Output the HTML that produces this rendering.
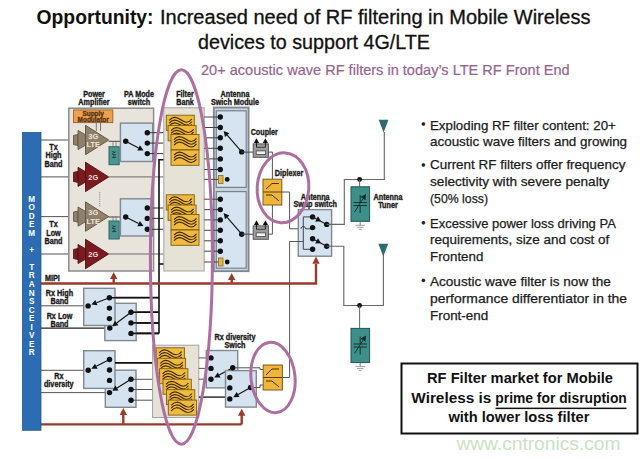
<!DOCTYPE html>
<html><head><meta charset="utf-8">
<style>
html,body{margin:0;padding:0;background:#fff;width:640px;height:459px;overflow:hidden}
svg{display:block}
text{font-family:"Liberation Sans",sans-serif}
</style></head>
<body>
<svg width="640" height="459" viewBox="0 0 640 459">
<text x="36.5" y="23.6" font-size="19.8" font-weight="bold" fill="#111" textLength="117" lengthAdjust="spacingAndGlyphs">Opportunity:</text>
<text x="160" y="23.6" font-size="19.6" fill="#111" stroke="#111" stroke-width="0.3" textLength="430.5" lengthAdjust="spacingAndGlyphs">Increased need of RF filtering in Mobile Wireless</text>
<text x="198" y="49.2" font-size="19.6" fill="#111" stroke="#111" stroke-width="0.3" textLength="232" lengthAdjust="spacingAndGlyphs">devices to support 4G/LTE</text>
<text x="201" y="75.3" font-size="14.6" fill="#96648f" stroke="#96648f" stroke-width="0.2" textLength="368.7" lengthAdjust="spacingAndGlyphs">20+ acoustic wave RF filters in today’s LTE RF Front End</text>
<g font-size="12.7" fill="#1c1c1c" stroke="#1c1c1c" stroke-width="0.25">
<circle cx="423.4" cy="124.0" r="1.7" fill="#222"/>
<text x="430" y="129.5" textLength="185.8" lengthAdjust="spacingAndGlyphs">Exploding RF filter content: 20+</text>
<text x="430" y="146.20000000000002" textLength="197.1" lengthAdjust="spacingAndGlyphs">acoustic wave filters and growing</text>
<circle cx="423.4" cy="165.0" r="1.7" fill="#222"/>
<text x="430" y="169.20000000000002" textLength="195.4" lengthAdjust="spacingAndGlyphs">Current RF filters offer frequency</text>
<text x="430" y="186.1" textLength="179.3" lengthAdjust="spacingAndGlyphs">selectivity with severe penalty</text>
<text x="430" y="202.9" textLength="58" lengthAdjust="spacingAndGlyphs">(50% loss)</text>
<circle cx="423.4" cy="222.8" r="1.7" fill="#222"/>
<text x="430" y="227.70000000000002" textLength="185.8" lengthAdjust="spacingAndGlyphs">Excessive power loss driving PA</text>
<text x="430" y="244.4" textLength="179.3" lengthAdjust="spacingAndGlyphs">requirements, size and cost of</text>
<text x="430" y="261.4" textLength="53.3" lengthAdjust="spacingAndGlyphs">Frontend</text>
<circle cx="423.4" cy="280.4" r="1.7" fill="#222"/>
<text x="430" y="285.79999999999995" textLength="180.8" lengthAdjust="spacingAndGlyphs">Acoustic wave filter is now the</text>
<text x="430" y="302.59999999999997" textLength="197.1" lengthAdjust="spacingAndGlyphs">performance differentiator in the</text>
<text x="430" y="319.79999999999995" textLength="58.2" lengthAdjust="spacingAndGlyphs">Front-end</text>
</g>
<rect x="401.5" y="363.5" width="236" height="70" fill="#fff" stroke="#111" stroke-width="2"/>
<g font-size="14.5" font-weight="bold" fill="#111">
<text x="427" y="383.2" textLength="186" lengthAdjust="spacingAndGlyphs">RF Filter market for Mobile</text>
<text x="411.3" y="402.7" textLength="80" lengthAdjust="spacingAndGlyphs">Wireless is</text>
<text x="495.3" y="402.7" textLength="131.5" lengthAdjust="spacingAndGlyphs">prime for disruption</text>
<rect x="495.5" y="407.6" width="131" height="1.5" fill="#111"/>
<text x="448.4" y="421.5" textLength="141" lengthAdjust="spacingAndGlyphs">with lower loss filter</text>
</g>
<text x="456.4" y="450" font-size="18" fill="#c9e3c0" textLength="164" lengthAdjust="spacingAndGlyphs">www.cntronics.com</text>
<text x="94" y="97" font-size="8.2" font-weight="bold" fill="#1a1a1a" stroke="#1a1a1a" stroke-width="0.35" text-anchor="middle" textLength="21.66" lengthAdjust="spacingAndGlyphs">Power</text>
<text x="94" y="104.8" font-size="8.2" font-weight="bold" fill="#1a1a1a" stroke="#1a1a1a" stroke-width="0.35" text-anchor="middle" textLength="31.27" lengthAdjust="spacingAndGlyphs">Amplifier</text>
<text x="139" y="97" font-size="8.2" font-weight="bold" fill="#1a1a1a" stroke="#1a1a1a" stroke-width="0.35" text-anchor="middle" textLength="30.07" lengthAdjust="spacingAndGlyphs">PA Mode</text>
<text x="139" y="104.8" font-size="8.2" font-weight="bold" fill="#1a1a1a" stroke="#1a1a1a" stroke-width="0.35" text-anchor="middle" textLength="22.45" lengthAdjust="spacingAndGlyphs">switch</text>
<text x="185" y="97" font-size="8.2" font-weight="bold" fill="#1a1a1a" stroke="#1a1a1a" stroke-width="0.35" text-anchor="middle" textLength="17.64" lengthAdjust="spacingAndGlyphs">Filter</text>
<text x="185" y="104.8" font-size="8.2" font-weight="bold" fill="#1a1a1a" stroke="#1a1a1a" stroke-width="0.35" text-anchor="middle" textLength="17.65" lengthAdjust="spacingAndGlyphs">Bank</text>
<text x="235" y="97" font-size="8.2" font-weight="bold" fill="#1a1a1a" stroke="#1a1a1a" stroke-width="0.35" text-anchor="middle" textLength="28.86" lengthAdjust="spacingAndGlyphs">Antenna</text>
<text x="235" y="104.8" font-size="8.2" font-weight="bold" fill="#1a1a1a" stroke="#1a1a1a" stroke-width="0.35" text-anchor="middle" textLength="48.11" lengthAdjust="spacingAndGlyphs">Swich Module</text>
<polyline points="41,140.0 74,140.0" fill="none" stroke="#555" stroke-width="1" />
<polyline points="41,176.9 74,176.9" fill="none" stroke="#555" stroke-width="1" />
<polyline points="41,216.6 74,216.6" fill="none" stroke="#555" stroke-width="1" />
<polyline points="41,254.0 74,254.0" fill="none" stroke="#555" stroke-width="1" />
<polyline points="41,305.8 88,305.8" fill="none" stroke="#555" stroke-width="1" />
<polyline points="41,328.1 109.8,328.1" fill="none" stroke="#222" stroke-width="1.4" />
<polyline points="41,370.3 88,370.3" fill="none" stroke="#555" stroke-width="1" />
<polyline points="41,392.6 109.5,392.6" fill="none" stroke="#555" stroke-width="1" />
<rect x="68.8" y="108.2" width="84.8" height="162.8" fill="#e8e4db" stroke="#8c8c8c" stroke-width="1.5" />
<rect x="73.5" y="109.9" width="39.3" height="12.699999999999989" fill="#eda24f" stroke="#9f6a33" stroke-width="1" />
<text x="93.2" y="115.6" font-size="6.8" font-weight="bold" fill="#5a3414" stroke="#5a3414" stroke-width="0.35" text-anchor="middle" textLength="21.53" lengthAdjust="spacingAndGlyphs">Supply</text>
<text x="93.2" y="122.0" font-size="6.8" font-weight="bold" fill="#5a3414" stroke="#5a3414" stroke-width="0.35" text-anchor="middle" textLength="31.22" lengthAdjust="spacingAndGlyphs">Modulator</text>
<polyline points="96.3,122.6 96.3,131" fill="none" stroke="#6a6a6a" stroke-width="0.9" />
<polyline points="100.5,122.6 100.5,131" fill="none" stroke="#6a6a6a" stroke-width="0.9" />
<polyline points="99.7,192 99.7,207" fill="none" stroke="#777" stroke-width="0.8" stroke-dasharray="1.2 1"/>
<path d="M73.5 135.4 L78.0 134.5 L78.0 145.5 L73.5 144.6 Z" fill="#8e806a" stroke="#5b4f3d" stroke-width="0.8"/>
<path d="M78.0 130.4 L94.5 140.0 L78.0 149.6 Z" fill="#8e806a" stroke="#5b4f3d" stroke-width="0.8"/>
<path d="M85.5 125.3 L108.7 140.0 L85.5 154.7 Z" fill="#8e806a" stroke="#5b4f3d" stroke-width="0.9"/>
<text x="93.3" y="138.8" font-size="7.4" font-weight="bold" fill="#efe6d6" text-anchor="middle">3G</text>
<text x="93.3" y="147.0" font-size="7.4" font-weight="bold" fill="#efe6d6" text-anchor="middle">LTE</text>
<path d="M73.5 172.3 L78.0 171.4 L78.0 182.4 L73.5 181.5 Z" fill="#7c1b1f" stroke="#4d0f12" stroke-width="0.8"/>
<path d="M78.0 167.3 L94.5 176.9 L78.0 186.5 Z" fill="#7c1b1f" stroke="#4d0f12" stroke-width="0.8"/>
<path d="M85.5 162.20000000000002 L108.7 176.9 L85.5 191.6 Z" fill="#7c1b1f" stroke="#4d0f12" stroke-width="0.9"/>
<text x="93.3" y="179.70000000000002" font-size="7.4" font-weight="bold" fill="#f3dede" text-anchor="middle">2G</text>
<path d="M73.5 212.0 L78.0 211.1 L78.0 222.1 L73.5 221.2 Z" fill="#8e806a" stroke="#5b4f3d" stroke-width="0.8"/>
<path d="M78.0 207.0 L94.5 216.6 L78.0 226.2 Z" fill="#8e806a" stroke="#5b4f3d" stroke-width="0.8"/>
<path d="M85.5 201.9 L108.7 216.6 L85.5 231.29999999999998 Z" fill="#8e806a" stroke="#5b4f3d" stroke-width="0.9"/>
<text x="93.3" y="215.4" font-size="7.4" font-weight="bold" fill="#efe6d6" text-anchor="middle">3G</text>
<text x="93.3" y="223.6" font-size="7.4" font-weight="bold" fill="#efe6d6" text-anchor="middle">LTE</text>
<path d="M73.5 249.4 L78.0 248.5 L78.0 259.5 L73.5 258.6 Z" fill="#7c1b1f" stroke="#4d0f12" stroke-width="0.8"/>
<path d="M78.0 244.4 L94.5 254.0 L78.0 263.6 Z" fill="#7c1b1f" stroke="#4d0f12" stroke-width="0.8"/>
<path d="M85.5 239.3 L108.7 254.0 L85.5 268.7 Z" fill="#7c1b1f" stroke="#4d0f12" stroke-width="0.9"/>
<text x="93.3" y="256.8" font-size="7.4" font-weight="bold" fill="#f3dede" text-anchor="middle">2G</text>
<polyline points="108.7,176.9 163.5,176.9" fill="none" stroke="#6b6b6b" stroke-width="1" />
<polyline points="108.7,254.0 163.5,254.0" fill="none" stroke="#6b6b6b" stroke-width="1" />
<polyline points="108.7,141.3 125.7,141.3" fill="none" stroke="#444" stroke-width="1" />
<polyline points="108.7,217 125.7,217" fill="none" stroke="#444" stroke-width="1" />
<polyline points="113,141.7 113,146.7" fill="none" stroke="#777" stroke-width="0.8" />
<polyline points="116,141.7 116,146.7" fill="none" stroke="#777" stroke-width="0.8" />
<rect x="109" y="146.7" width="10.200000000000003" height="18.0" fill="#4a958f" stroke="#2a6763" stroke-width="1" />
<text x="0" y="0" font-size="5.5" font-weight="bold" fill="#173c3a" transform="translate(112.3 150.7) rotate(90)">λ/4</text>
<polyline points="113,216 113,221" fill="none" stroke="#777" stroke-width="0.8" />
<polyline points="116,216 116,221" fill="none" stroke="#777" stroke-width="0.8" />
<rect x="109" y="221" width="10.200000000000003" height="18" fill="#4a958f" stroke="#2a6763" stroke-width="1" />
<text x="0" y="0" font-size="5.5" font-weight="bold" fill="#173c3a" transform="translate(112.3 225) rotate(90)">λ/4</text>
<rect x="120.4" y="123.1" width="32.29999999999998" height="38.400000000000006" fill="#d5e2ef" stroke="#808891" stroke-width="1.4"/>
<polyline points="147.3,132.7 163.5,132.7" fill="none" stroke="#333" stroke-width="1" />
<circle cx="147.3" cy="132.7" r="2.7" fill="#111"/>
<polyline points="147.3,143.1 163.5,143.1" fill="none" stroke="#333" stroke-width="1" />
<circle cx="147.3" cy="143.1" r="2.7" fill="#111"/>
<polyline points="147.3,153.6 163.5,153.6" fill="none" stroke="#333" stroke-width="1" />
<circle cx="147.3" cy="153.6" r="2.7" fill="#111"/>
<circle cx="125.7" cy="141.3" r="2.7" fill="#111"/>
<line x1="125.7" y1="141.3" x2="138.60285703107405" y2="147.89640443723448" stroke="#111" stroke-width="1.1"/>
<path d="M143.5 150.4 L137.28277937070678 150.47853436630453 L139.92293469144133 145.31427450816443 Z" fill="#111"/>
<rect x="120.4" y="198.8" width="32.29999999999998" height="37.19999999999999" fill="#d5e2ef" stroke="#808891" stroke-width="1.4"/>
<polyline points="147.3,208.0 163.5,208.0" fill="none" stroke="#333" stroke-width="1" />
<circle cx="147.3" cy="208.0" r="2.7" fill="#111"/>
<polyline points="147.3,218.4 163.5,218.4" fill="none" stroke="#333" stroke-width="1" />
<circle cx="147.3" cy="218.4" r="2.7" fill="#111"/>
<polyline points="147.3,229.3 163.5,229.3" fill="none" stroke="#333" stroke-width="1" />
<circle cx="147.3" cy="229.3" r="2.7" fill="#111"/>
<circle cx="125.7" cy="217.0" r="2.7" fill="#111"/>
<line x1="125.7" y1="217.0" x2="138.60285703107405" y2="223.5964044372345" stroke="#111" stroke-width="1.1"/>
<path d="M143.5 226.10000000000002 L137.28277937070678 226.17853436630455 L139.92293469144133 221.01427450816445 Z" fill="#111"/>
<rect x="163.8" y="107.8" width="40.39999999999998" height="163.2" fill="#e6e2d6" stroke="#a3a3a3" stroke-width="1" />
<rect x="166.3" y="115.2" width="28" height="15.3" fill="#f0bb3b" stroke="#7a5e1a" stroke-width="0.9"/>
<path d="M169.3 120.39999999999999 C172.3 116.39999999999999 176.3 116.39999999999999 180.8 119.8 S188.3 123.39999999999999 191.8 119.0" fill="none" stroke="#3e2608" stroke-width="1.2"/>
<path d="M169.3 123.14999999999999 C172.3 119.14999999999999 176.3 119.14999999999999 180.8 122.55 S188.3 126.14999999999999 191.8 121.75" fill="none" stroke="#3e2608" stroke-width="1.2"/>
<path d="M169.3 125.89999999999999 C172.3 121.89999999999999 176.3 121.89999999999999 180.8 125.3 S188.3 128.9 191.8 124.5" fill="none" stroke="#3e2608" stroke-width="1.2"/>
<rect x="168.1" y="125.5" width="28" height="15.3" fill="#f0bb3b" stroke="#7a5e1a" stroke-width="0.9"/>
<path d="M171.1 130.7 C174.1 126.69999999999999 178.1 126.69999999999999 182.6 130.1 S190.1 133.7 193.6 129.29999999999998" fill="none" stroke="#3e2608" stroke-width="1.2"/>
<path d="M171.1 133.45 C174.1 129.45 178.1 129.45 182.6 132.85 S190.1 136.45 193.6 132.04999999999998" fill="none" stroke="#3e2608" stroke-width="1.2"/>
<path d="M171.1 136.2 C174.1 132.2 178.1 132.2 182.6 135.6 S190.1 139.2 193.6 134.79999999999998" fill="none" stroke="#3e2608" stroke-width="1.2"/>
<rect x="171" y="134.5" width="28" height="15.3" fill="#f0bb3b" stroke="#7a5e1a" stroke-width="0.9"/>
<path d="M174 139.7 C177 135.7 181 135.7 185.5 139.1 S193 142.7 196.5 138.29999999999998" fill="none" stroke="#3e2608" stroke-width="1.2"/>
<path d="M174 142.45 C177 138.45 181 138.45 185.5 141.85 S193 145.45 196.5 141.04999999999998" fill="none" stroke="#3e2608" stroke-width="1.2"/>
<path d="M174 145.2 C177 141.2 181 141.2 185.5 144.6 S193 148.2 196.5 143.79999999999998" fill="none" stroke="#3e2608" stroke-width="1.2"/>
<rect x="171" y="150" width="28" height="15.3" fill="#f0bb3b" stroke="#7a5e1a" stroke-width="0.9"/>
<path d="M174 155.2 C177 151.2 181 151.2 185.5 154.6 S193 158.2 196.5 153.79999999999998" fill="none" stroke="#3e2608" stroke-width="1.2"/>
<path d="M174 157.95 C177 153.95 181 153.95 185.5 157.35 S193 160.95 196.5 156.54999999999998" fill="none" stroke="#3e2608" stroke-width="1.2"/>
<path d="M174 160.7 C177 156.7 181 156.7 185.5 160.1 S193 163.7 196.5 159.29999999999998" fill="none" stroke="#3e2608" stroke-width="1.2"/>
<rect x="166.3" y="194.8" width="28" height="15.3" fill="#f0bb3b" stroke="#7a5e1a" stroke-width="0.9"/>
<path d="M169.3 200.0 C172.3 196.0 176.3 196.0 180.8 199.4 S188.3 203.0 191.8 198.6" fill="none" stroke="#3e2608" stroke-width="1.2"/>
<path d="M169.3 202.75 C172.3 198.75 176.3 198.75 180.8 202.15 S188.3 205.75 191.8 201.35" fill="none" stroke="#3e2608" stroke-width="1.2"/>
<path d="M169.3 205.5 C172.3 201.5 176.3 201.5 180.8 204.9 S188.3 208.5 191.8 204.1" fill="none" stroke="#3e2608" stroke-width="1.2"/>
<rect x="168.1" y="205.0" width="28" height="15.3" fill="#f0bb3b" stroke="#7a5e1a" stroke-width="0.9"/>
<path d="M171.1 210.2 C174.1 206.2 178.1 206.2 182.6 209.6 S190.1 213.2 193.6 208.79999999999998" fill="none" stroke="#3e2608" stroke-width="1.2"/>
<path d="M171.1 212.95 C174.1 208.95 178.1 208.95 182.6 212.35 S190.1 215.95 193.6 211.54999999999998" fill="none" stroke="#3e2608" stroke-width="1.2"/>
<path d="M171.1 215.7 C174.1 211.7 178.1 211.7 182.6 215.1 S190.1 218.7 193.6 214.29999999999998" fill="none" stroke="#3e2608" stroke-width="1.2"/>
<rect x="171" y="214.5" width="28" height="15.3" fill="#f0bb3b" stroke="#7a5e1a" stroke-width="0.9"/>
<path d="M174 219.7 C177 215.7 181 215.7 185.5 219.1 S193 222.7 196.5 218.29999999999998" fill="none" stroke="#3e2608" stroke-width="1.2"/>
<path d="M174 222.45 C177 218.45 181 218.45 185.5 221.85 S193 225.45 196.5 221.04999999999998" fill="none" stroke="#3e2608" stroke-width="1.2"/>
<path d="M174 225.2 C177 221.2 181 221.2 185.5 224.6 S193 228.2 196.5 223.79999999999998" fill="none" stroke="#3e2608" stroke-width="1.2"/>
<rect x="171" y="230" width="28" height="15.3" fill="#f0bb3b" stroke="#7a5e1a" stroke-width="0.9"/>
<path d="M174 235.2 C177 231.2 181 231.2 185.5 234.6 S193 238.2 196.5 233.79999999999998" fill="none" stroke="#3e2608" stroke-width="1.2"/>
<path d="M174 237.95 C177 233.95 181 233.95 185.5 237.35 S193 240.95 196.5 236.54999999999998" fill="none" stroke="#3e2608" stroke-width="1.2"/>
<path d="M174 240.7 C177 236.7 181 236.7 185.5 240.1 S193 243.7 196.5 239.29999999999998" fill="none" stroke="#3e2608" stroke-width="1.2"/>
<polyline points="163.5,159.8 159,159.8 159,333.4" fill="none" stroke="#111" stroke-width="1.6" />
<polyline points="163.5,264 159,264" fill="none" stroke="#111" stroke-width="1.6" />
<polyline points="109.5,297.5 159,297.5" fill="none" stroke="#111" stroke-width="1.6" />
<polyline points="109.5,312.3 159,312.3" fill="none" stroke="#111" stroke-width="1.6" />
<polyline points="109.5,323.0 159,323.0" fill="none" stroke="#111" stroke-width="1.6" />
<polyline points="109.5,333.4 159,333.4" fill="none" stroke="#111" stroke-width="1.6" />
<polyline points="41,283.5 68,283.5" fill="none" stroke="#983b2c" stroke-width="0" />
<rect x="213.8" y="107.5" width="34.79999999999998" height="163.7" fill="#c9d3dc" stroke="#7e8790" stroke-width="1.8" />
<rect x="216.3" y="110.8" width="29.899999999999977" height="76.60000000000001" fill="#d6e3f0" stroke="#76838f" stroke-width="1.2" />
<rect x="216.3" y="191.6" width="29.899999999999977" height="76.6" fill="#d6e3f0" stroke="#76838f" stroke-width="1.2" />
<polyline points="204.2,117.0 220.3,117.0" fill="none" stroke="#444" stroke-width="1" />
<circle cx="220.3" cy="117.0" r="2.7" fill="#111"/>
<polyline points="204.2,127.5 220.3,127.5" fill="none" stroke="#444" stroke-width="1" />
<circle cx="220.3" cy="127.5" r="2.7" fill="#111"/>
<polyline points="204.2,137.8 220.3,137.8" fill="none" stroke="#444" stroke-width="1" />
<circle cx="220.3" cy="137.8" r="2.7" fill="#111"/>
<polyline points="204.2,148.3 220.3,148.3" fill="none" stroke="#444" stroke-width="1" />
<circle cx="220.3" cy="148.3" r="2.7" fill="#111"/>
<polyline points="204.2,158.9 220.3,158.9" fill="none" stroke="#444" stroke-width="1" />
<circle cx="220.3" cy="158.9" r="2.7" fill="#111"/>
<polyline points="204.2,169.5 220.3,169.5" fill="none" stroke="#444" stroke-width="1" />
<circle cx="220.3" cy="169.5" r="2.7" fill="#111"/>
<polyline points="204.2,179.4 220.3,179.4" fill="none" stroke="#444" stroke-width="1" />
<rect x="218.4" y="175.4" width="4.599999999999994" height="8.0" fill="#e9b33c" stroke="#8a6a20" stroke-width="0.8" />
<circle cx="227.2" cy="179.4" r="2.4" fill="#111"/>
<circle cx="241.7" cy="151.9" r="2.7" fill="#111"/>
<line x1="241.7" y1="151.9" x2="227.2006030392712" y2="135.15760240446232" stroke="#111" stroke-width="1.1"/>
<path d="M223.6 131.0 L229.3927933979877 133.25910262011934 L225.00841268055467 137.0561021888053 Z" fill="#111"/>
<polyline points="204.2,199.2 220.3,199.2" fill="none" stroke="#444" stroke-width="1" />
<circle cx="220.3" cy="199.2" r="2.7" fill="#111"/>
<polyline points="204.2,209.6 220.3,209.6" fill="none" stroke="#444" stroke-width="1" />
<circle cx="220.3" cy="209.6" r="2.7" fill="#111"/>
<polyline points="204.2,219.9 220.3,219.9" fill="none" stroke="#444" stroke-width="1" />
<circle cx="220.3" cy="219.9" r="2.7" fill="#111"/>
<polyline points="204.2,230.3 220.3,230.3" fill="none" stroke="#444" stroke-width="1" />
<circle cx="220.3" cy="230.3" r="2.7" fill="#111"/>
<polyline points="204.2,240.8 220.3,240.8" fill="none" stroke="#444" stroke-width="1" />
<circle cx="220.3" cy="240.8" r="2.7" fill="#111"/>
<polyline points="204.2,251.2 220.3,251.2" fill="none" stroke="#444" stroke-width="1" />
<circle cx="220.3" cy="251.2" r="2.7" fill="#111"/>
<polyline points="204.2,262.0 220.3,262.0" fill="none" stroke="#444" stroke-width="1" />
<rect x="218.4" y="258.0" width="4.599999999999994" height="8.0" fill="#e9b33c" stroke="#8a6a20" stroke-width="0.8" />
<circle cx="227.2" cy="262.0" r="2.4" fill="#111"/>
<circle cx="241.7" cy="234.2" r="2.7" fill="#111"/>
<line x1="241.7" y1="234.2" x2="227.1809815874535" y2="217.27451444725241" stroke="#111" stroke-width="1.1"/>
<path d="M223.6 213.1 L229.38208920509567 215.38636051932238 L224.9798739698113 219.16266837518245 Z" fill="#111"/>
<polyline points="241.7,152.1 253.2,152.1" fill="none" stroke="#444" stroke-width="1" />
<rect x="253.2" y="143.9" width="15.199999999999989" height="13.399999999999977" fill="#9c9c9c" stroke="#555" stroke-width="1" />
<rect x="256.2" y="150.9" width="9.400000000000034" height="3.5" fill="#f4f4f4" stroke="#444" stroke-width="0.8" />
<polyline points="256.5,147.29999999999998 265.4,147.29999999999998" fill="none" stroke="#333" stroke-width="0.9" />
<polyline points="256.5,147.29999999999998 256.5,142.1" fill="none" stroke="#222" stroke-width="1" />
<path d="M256.5 138.29999999999998 L253.9 142.9 L259.1 142.9 Z" fill="#111"/>
<polyline points="265.4,147.29999999999998 265.4,142.1" fill="none" stroke="#222" stroke-width="1" />
<path d="M265.4 138.29999999999998 L262.79999999999995 142.9 L268.0 142.9 Z" fill="#111"/>
<polyline points="241.7,234.2 253.2,234.2" fill="none" stroke="#444" stroke-width="1" />
<rect x="253.2" y="225.9" width="15.199999999999989" height="13.399999999999977" fill="#9c9c9c" stroke="#555" stroke-width="1" />
<rect x="256.2" y="232.9" width="9.400000000000034" height="3.5" fill="#f4f4f4" stroke="#444" stroke-width="0.8" />
<polyline points="256.5,229.29999999999998 265.4,229.29999999999998" fill="none" stroke="#333" stroke-width="0.9" />
<polyline points="256.5,229.29999999999998 256.5,224.1" fill="none" stroke="#222" stroke-width="1" />
<path d="M256.5 220.29999999999998 L253.9 224.9 L259.1 224.9 Z" fill="#111"/>
<polyline points="265.4,229.29999999999998 265.4,224.1" fill="none" stroke="#222" stroke-width="1" />
<path d="M265.4 220.29999999999998 L262.79999999999995 224.9 L268.0 224.9 Z" fill="#111"/>
<text x="264.3" y="135" font-size="8.2" font-weight="bold" fill="#1a1a1a" stroke="#1a1a1a" stroke-width="0.35" text-anchor="middle" textLength="27.26" lengthAdjust="spacingAndGlyphs">Coupler</text>
<polyline points="268.4,152.1 272.4,152.1 272.4,179.2" fill="none" stroke="#555" stroke-width="1" />
<polyline points="268.4,234.2 272.4,234.2 272.4,205" fill="none" stroke="#555" stroke-width="1" />
<rect x="263" y="179.2" width="18.80000000000001" height="25.80000000000001" fill="#efb53a" stroke="#7a5c1a" stroke-width="1" />
<polyline points="263,192 281.8,192" fill="none" stroke="#5a4010" stroke-width="1" />
<path d="M266 189 L272 183.5 L279 183.5 M266 195 L272 195 L279 201" fill="none" stroke="#4a3408" stroke-width="1"/>
<text x="289" y="175.6" font-size="8.2" font-weight="bold" fill="#1a1a1a" stroke="#1a1a1a" stroke-width="0.35" text-anchor="middle" textLength="28.48" lengthAdjust="spacingAndGlyphs">Diplexer</text>
<polyline points="281.8,192 289.6,192 289.6,228.8 301,228.8" fill="none" stroke="#555" stroke-width="1" />
<text x="315.2" y="199.6" font-size="8.2" font-weight="bold" fill="#1a1a1a" stroke="#1a1a1a" stroke-width="0.35" text-anchor="middle" textLength="28.86" lengthAdjust="spacingAndGlyphs">Antenna</text>
<text x="315.2" y="207.3" font-size="8.2" font-weight="bold" fill="#1a1a1a" stroke="#1a1a1a" stroke-width="0.35" text-anchor="middle" textLength="43.31" lengthAdjust="spacingAndGlyphs">Swap switch</text>
<rect x="298.3" y="209.6" width="33.30000000000001" height="46.599999999999994" fill="#d5e2ef" stroke="#808891" stroke-width="1.4" />
<polyline points="289.6,241.5 303.3,241.5" fill="none" stroke="#555" stroke-width="1" />
<polyline points="312.6,216.9 303.3,216.9 303.3,249.3 312.6,249.3" fill="none" stroke="#444" stroke-width="1" />
<path d="M301 228.8 A2.3 2.3 0 0 1 305.6 228.8 L312.6 228.8" fill="none" stroke="#444" stroke-width="1"/>
<circle cx="312.6" cy="216.9" r="2.7" fill="#111"/>
<circle cx="312.6" cy="227.6" r="2.7" fill="#111"/>
<circle cx="312.6" cy="238.7" r="2.7" fill="#111"/>
<circle cx="312.6" cy="249.3" r="2.7" fill="#111"/>
<circle cx="326.7" cy="224.4" r="2.7" fill="#111"/>
<circle cx="326.7" cy="246.2" r="2.7" fill="#111"/>
<line x1="326.7" y1="224.4" x2="312.6" y2="216.9" stroke="#222" stroke-width="1.1"/>
<path d="M320.99 221.36 L315.16 221.66 L317.98 216.36 Z" fill="#111"/>
<line x1="326.7" y1="246.2" x2="312.6" y2="238.7" stroke="#222" stroke-width="1.1"/>
<path d="M320.99 243.16 L315.16 243.46 L317.98 238.16 Z" fill="#111"/>
<polyline points="289.6,241.5 289.6,377.5 282.4,377.5" fill="none" stroke="#555" stroke-width="1" />
<polyline points="326.7,224.4 344.3,224.4 344.3,179.5 384.3,179.5 384.3,132" fill="none" stroke="#666" stroke-width="1.1" />
<polyline points="326.7,246.2 343.8,246.2 343.8,305.5 383.4,305.5 383.4,255" fill="none" stroke="#666" stroke-width="1.1" />
<path d="M378.70000000000005 119.8 L388.5 119.8 L383.6 132.6 Z" fill="#2c6b6e"/>
<path d="M378.40000000000003 243.7 L388.2 243.7 L383.3 256.5 Z" fill="#2c6b6e"/>
<circle cx="359.6" cy="179.5" r="2.4" fill="#111"/>
<polyline points="359.6,179.5 359.6,186.8" fill="none" stroke="#666" stroke-width="1" />
<rect x="351" y="186.8" width="18.600000000000023" height="34.5" fill="#3e8e89" stroke="#1f5552" stroke-width="1" />
<path d="M353.5 202.55 L367 202.55 M353.5 205.55 L367 205.55 M360.2 202.55 L360.2 195.05 M360.2 205.55 L360.2 213.05" stroke="#0f2e2d" stroke-width="0.9" fill="none"/>
<line x1="354.5" y1="212.05" x2="363.0388589759379" y2="198.6848294289668" stroke="#0f2e2d" stroke-width="0.9"/>
<path d="M366 194.05 L365.4826781293931 200.24615833256317 L360.5950398224827 197.12350052537042 Z" fill="#0f2e2d"/>
<polyline points="360.2,221.3 360.2,225.3" fill="none" stroke="#666" stroke-width="0.8" />
<path d="M355.5 225.3 L365 225.3 M357 227.3 L363.5 227.3 M358.7 229.3 L361.8 229.3" stroke="#777" stroke-width="0.7" fill="none"/>
<circle cx="359.6" cy="305.5" r="2.4" fill="#111"/>
<polyline points="359.6,305.5 359.6,328.4" fill="none" stroke="#666" stroke-width="1" />
<rect x="351" y="328.4" width="18.600000000000023" height="34.200000000000045" fill="#3e8e89" stroke="#1f5552" stroke-width="1" />
<path d="M353.5 344.0 L367 344.0 M353.5 347.0 L367 347.0 M360.2 344.0 L360.2 336.5 M360.2 347.0 L360.2 354.5" stroke="#0f2e2d" stroke-width="0.9" fill="none"/>
<line x1="354.5" y1="353.5" x2="363.0388589759379" y2="340.1348294289668" stroke="#0f2e2d" stroke-width="0.9"/>
<path d="M366 335.5 L365.4826781293931 341.6961583325632 L360.5950398224827 338.5735005253704 Z" fill="#0f2e2d"/>
<polyline points="360.2,362.6 360.2,366.6" fill="none" stroke="#666" stroke-width="0.8" />
<path d="M355.5 366.6 L365 366.6 M357 368.6 L363.5 368.6 M358.7 370.6 L361.8 370.6" stroke="#777" stroke-width="0.7" fill="none"/>
<text x="388" y="199.8" font-size="8.2" font-weight="bold" fill="#1a1a1a" stroke="#1a1a1a" stroke-width="0.35" text-anchor="middle" textLength="28.86" lengthAdjust="spacingAndGlyphs">Antenna</text>
<text x="388" y="208" font-size="8.2" font-weight="bold" fill="#1a1a1a" stroke="#1a1a1a" stroke-width="0.35" text-anchor="middle" textLength="19.51" lengthAdjust="spacingAndGlyphs">Tuner</text>
<polyline points="41,283.5 316,283.5 316,264" fill="none" stroke="#983b2c" stroke-width="2.4" />
<line x1="113.7" y1="283.5" x2="113.7" y2="278" stroke="#983b2c" stroke-width="2.4"/>
<path d="M113.7 272 L110.0 279 L117.4 279 Z" fill="#983b2c"/>
<line x1="231.7" y1="283.5" x2="231.7" y2="279" stroke="#983b2c" stroke-width="2.4"/>
<path d="M231.7 273 L228.0 280 L235.39999999999998 280 Z" fill="#983b2c"/>
<path d="M316 256.6 L312.4 263.8 L319.6 263.8 Z" fill="#983b2c"/>
<text x="52.3" y="280.6" font-size="8.2" font-weight="bold" fill="#1a1a1a" stroke="#1a1a1a" stroke-width="0.35" text-anchor="middle" textLength="14.83" lengthAdjust="spacingAndGlyphs">MIPI</text>
<rect x="104.8" y="303.3" width="31.39999999999999" height="37.30000000000001" fill="#d5e2ef" stroke="#808891" stroke-width="1.4"/>
<rect x="83.7" y="288.3" width="31.299999999999997" height="37.19999999999999" fill="#d5e2ef" stroke="#808891" stroke-width="1.4"/>
<polyline points="109.4,297.7 159,297.7" fill="none" stroke="#111" stroke-width="1.6" />
<circle cx="109.4" cy="297.7" r="2.7" fill="#111"/>
<circle cx="109.4" cy="308.1" r="2.7" fill="#111"/>
<circle cx="109.4" cy="318.6" r="2.7" fill="#111"/>
<circle cx="88.1" cy="305.9" r="2.7" fill="#111"/>
<line x1="109.4" y1="297.7" x2="96.43923260767076" y2="302.640845028015" stroke="#111" stroke-width="1.1"/>
<path d="M91.3 304.6 L95.40622362244231 299.9310678348795 L97.47224159289921 305.3506222211505 Z" fill="#111"/>
<polyline points="131,312.2 159,312.2" fill="none" stroke="#111" stroke-width="1.6" />
<circle cx="131" cy="312.2" r="2.7" fill="#111"/>
<polyline points="131,322.9 159,322.9" fill="none" stroke="#111" stroke-width="1.6" />
<circle cx="131" cy="322.9" r="2.7" fill="#111"/>
<polyline points="131,333.4 159,333.4" fill="none" stroke="#111" stroke-width="1.6" />
<circle cx="131" cy="333.4" r="2.7" fill="#111"/>
<circle cx="109.8" cy="328.1" r="2.7" fill="#111"/>
<line x1="131" y1="312.2" x2="116.69153127578717" y2="322.98873844980756" stroke="#111" stroke-width="1.1"/>
<path d="M112.3 326.3 L114.94559336750386 320.6732037771198 L118.43746918407048 325.3042731224953 Z" fill="#111"/>
<text x="53.5" y="149.5" font-size="8.2" font-weight="bold" fill="#1a1a1a" stroke="#1a1a1a" stroke-width="0.35" text-anchor="middle" textLength="8.42" lengthAdjust="spacingAndGlyphs">Tx</text>
<text x="53.5" y="158" font-size="8.2" font-weight="bold" fill="#1a1a1a" stroke="#1a1a1a" stroke-width="0.35" text-anchor="middle" textLength="16.03" lengthAdjust="spacingAndGlyphs">High</text>
<text x="53.5" y="166.5" font-size="8.2" font-weight="bold" fill="#1a1a1a" stroke="#1a1a1a" stroke-width="0.35" text-anchor="middle" textLength="18.04" lengthAdjust="spacingAndGlyphs">Band</text>
<text x="53.5" y="227" font-size="8.2" font-weight="bold" fill="#1a1a1a" stroke="#1a1a1a" stroke-width="0.35" text-anchor="middle" textLength="8.42" lengthAdjust="spacingAndGlyphs">Tx</text>
<text x="53.5" y="235.5" font-size="8.2" font-weight="bold" fill="#1a1a1a" stroke="#1a1a1a" stroke-width="0.35" text-anchor="middle" textLength="14.43" lengthAdjust="spacingAndGlyphs">Low</text>
<text x="53.5" y="244" font-size="8.2" font-weight="bold" fill="#1a1a1a" stroke="#1a1a1a" stroke-width="0.35" text-anchor="middle" textLength="18.04" lengthAdjust="spacingAndGlyphs">Band</text>
<text x="59.5" y="296.3" font-size="8.2" font-weight="bold" fill="#1a1a1a" stroke="#1a1a1a" stroke-width="0.35" text-anchor="middle" textLength="27.26" lengthAdjust="spacingAndGlyphs">Rx High</text>
<text x="59.5" y="304.3" font-size="8.2" font-weight="bold" fill="#1a1a1a" stroke="#1a1a1a" stroke-width="0.35" text-anchor="middle" textLength="18.04" lengthAdjust="spacingAndGlyphs">Band</text>
<text x="59.5" y="319" font-size="8.2" font-weight="bold" fill="#1a1a1a" stroke="#1a1a1a" stroke-width="0.35" text-anchor="middle" textLength="25.66" lengthAdjust="spacingAndGlyphs">Rx Low</text>
<text x="59.5" y="327" font-size="8.2" font-weight="bold" fill="#1a1a1a" stroke="#1a1a1a" stroke-width="0.35" text-anchor="middle" textLength="18.04" lengthAdjust="spacingAndGlyphs">Band</text>
<text x="58.8" y="379" font-size="8.2" font-weight="bold" fill="#1a1a1a" stroke="#1a1a1a" stroke-width="0.35" text-anchor="middle" textLength="9.22" lengthAdjust="spacingAndGlyphs">Rx</text>
<text x="58.8" y="387" font-size="8.2" font-weight="bold" fill="#1a1a1a" stroke="#1a1a1a" stroke-width="0.35" text-anchor="middle" textLength="29.68" lengthAdjust="spacingAndGlyphs">diversity</text>
<rect x="105.3" y="370.2" width="30.700000000000003" height="37.10000000000002" fill="#d5e2ef" stroke="#808891" stroke-width="1.4"/>
<rect x="83.7" y="350.7" width="31.299999999999997" height="37.69999999999999" fill="#d5e2ef" stroke="#808891" stroke-width="1.4"/>
<polyline points="115.0,362.9 152.6,362.9" fill="none" stroke="#111" stroke-width="1.6" />
<circle cx="109.5" cy="359.5" r="2.7" fill="#111"/>
<circle cx="109.5" cy="370.0" r="2.7" fill="#111"/>
<circle cx="109.5" cy="380.4" r="2.7" fill="#111"/>
<circle cx="88.2" cy="370.3" r="2.7" fill="#111"/>
<line x1="109.5" y1="359.5" x2="96.29202478983018" y2="366.28641820191046" stroke="#111" stroke-width="1.1"/>
<path d="M91.4 368.8 L94.96668165992843 363.70698694909095 L97.61736791973193 368.86584945473 Z" fill="#111"/>
<polyline points="131,379.3 152.6,379.3" fill="none" stroke="#555" stroke-width="1" />
<circle cx="131" cy="379.3" r="2.7" fill="#111"/>
<polyline points="131,389.5 152.6,389.5" fill="none" stroke="#555" stroke-width="1" />
<circle cx="131" cy="389.5" r="2.7" fill="#111"/>
<polyline points="131,400.2 152.6,400.2" fill="none" stroke="#555" stroke-width="1" />
<circle cx="131" cy="400.2" r="2.7" fill="#111"/>
<circle cx="109.5" cy="392.6" r="2.7" fill="#111"/>
<line x1="131" y1="379.3" x2="116.98498073495138" y2="387.91886211486946" stroke="#111" stroke-width="1.1"/>
<path d="M112.3 390.8 L115.46583530460983 385.44859954553147 L118.50412616529293 390.38912468420745 Z" fill="#111"/>
<rect x="152.6" y="345.2" width="46.20000000000002" height="72.30000000000001" fill="#e6e2d6" stroke="#a3a3a3" stroke-width="1" />
<rect x="156.1" y="347.8" width="28.3" height="15.0" fill="#f0bb3b" stroke="#7a5e1a" stroke-width="0.9"/>
<path d="M159.1 353.00000000000006 C162.1 349.00000000000006 166.1 349.00000000000006 170.6 352.40000000000003 S178.1 356.00000000000006 181.6 351.6" fill="none" stroke="#3e2608" stroke-width="1.2"/>
<path d="M159.1 355.75000000000006 C162.1 351.75000000000006 166.1 351.75000000000006 170.6 355.15000000000003 S178.1 358.75000000000006 181.6 354.35" fill="none" stroke="#3e2608" stroke-width="1.2"/>
<path d="M159.1 358.50000000000006 C162.1 354.50000000000006 166.1 354.50000000000006 170.6 357.90000000000003 S178.1 361.50000000000006 181.6 357.1" fill="none" stroke="#3e2608" stroke-width="1.2"/>
<rect x="157.3" y="358.3" width="28.3" height="15.0" fill="#f0bb3b" stroke="#7a5e1a" stroke-width="0.9"/>
<path d="M160.3 363.50000000000006 C163.3 359.50000000000006 167.3 359.50000000000006 171.8 362.90000000000003 S179.3 366.50000000000006 182.8 362.1" fill="none" stroke="#3e2608" stroke-width="1.2"/>
<path d="M160.3 366.25000000000006 C163.3 362.25000000000006 167.3 362.25000000000006 171.8 365.65000000000003 S179.3 369.25000000000006 182.8 364.85" fill="none" stroke="#3e2608" stroke-width="1.2"/>
<path d="M160.3 369.00000000000006 C163.3 365.00000000000006 167.3 365.00000000000006 171.8 368.40000000000003 S179.3 372.00000000000006 182.8 367.6" fill="none" stroke="#3e2608" stroke-width="1.2"/>
<rect x="159.6" y="368.7" width="28.3" height="15.0" fill="#f0bb3b" stroke="#7a5e1a" stroke-width="0.9"/>
<path d="M162.6 373.90000000000003 C165.6 369.90000000000003 169.6 369.90000000000003 174.1 373.3 S181.6 376.90000000000003 185.1 372.5" fill="none" stroke="#3e2608" stroke-width="1.2"/>
<path d="M162.6 376.65000000000003 C165.6 372.65000000000003 169.6 372.65000000000003 174.1 376.05 S181.6 379.65000000000003 185.1 375.25" fill="none" stroke="#3e2608" stroke-width="1.2"/>
<path d="M162.6 379.40000000000003 C165.6 375.40000000000003 169.6 375.40000000000003 174.1 378.8 S181.6 382.40000000000003 185.1 378.0" fill="none" stroke="#3e2608" stroke-width="1.2"/>
<rect x="163" y="379.2" width="28.3" height="15.0" fill="#f0bb3b" stroke="#7a5e1a" stroke-width="0.9"/>
<path d="M166 384.40000000000003 C169 380.40000000000003 173 380.40000000000003 177.5 383.8 S185 387.40000000000003 188.5 383.0" fill="none" stroke="#3e2608" stroke-width="1.2"/>
<path d="M166 387.15000000000003 C169 383.15000000000003 173 383.15000000000003 177.5 386.55 S185 390.15000000000003 188.5 385.75" fill="none" stroke="#3e2608" stroke-width="1.2"/>
<path d="M166 389.90000000000003 C169 385.90000000000003 173 385.90000000000003 177.5 389.3 S185 392.90000000000003 188.5 388.5" fill="none" stroke="#3e2608" stroke-width="1.2"/>
<rect x="166.5" y="389.7" width="28.3" height="15.0" fill="#f0bb3b" stroke="#7a5e1a" stroke-width="0.9"/>
<path d="M169.5 394.90000000000003 C172.5 390.90000000000003 176.5 390.90000000000003 181.0 394.3 S188.5 397.90000000000003 192.0 393.5" fill="none" stroke="#3e2608" stroke-width="1.2"/>
<path d="M169.5 397.65000000000003 C172.5 393.65000000000003 176.5 393.65000000000003 181.0 397.05 S188.5 400.65000000000003 192.0 396.25" fill="none" stroke="#3e2608" stroke-width="1.2"/>
<path d="M169.5 400.40000000000003 C172.5 396.40000000000003 176.5 396.40000000000003 181.0 399.8 S188.5 403.40000000000003 192.0 399.0" fill="none" stroke="#3e2608" stroke-width="1.2"/>
<rect x="168.3" y="400.1" width="28.3" height="15.0" fill="#f0bb3b" stroke="#7a5e1a" stroke-width="0.9"/>
<path d="M171.3 405.30000000000007 C174.3 401.30000000000007 178.3 401.30000000000007 182.8 404.70000000000005 S190.3 408.30000000000007 193.8 403.90000000000003" fill="none" stroke="#3e2608" stroke-width="1.2"/>
<path d="M171.3 408.05000000000007 C174.3 404.05000000000007 178.3 404.05000000000007 182.8 407.45000000000005 S190.3 411.05000000000007 193.8 406.65000000000003" fill="none" stroke="#3e2608" stroke-width="1.2"/>
<path d="M171.3 410.80000000000007 C174.3 406.80000000000007 178.3 406.80000000000007 182.8 410.20000000000005 S190.3 413.80000000000007 193.8 409.40000000000003" fill="none" stroke="#3e2608" stroke-width="1.2"/>
<text x="235" y="340.4" font-size="8.2" font-weight="bold" fill="#1a1a1a" stroke="#1a1a1a" stroke-width="0.35" text-anchor="middle" textLength="40.91" lengthAdjust="spacingAndGlyphs">Rx diversity</text>
<text x="235" y="348" font-size="8.2" font-weight="bold" fill="#1a1a1a" stroke="#1a1a1a" stroke-width="0.35" text-anchor="middle" textLength="20.85" lengthAdjust="spacingAndGlyphs">Swich</text>
<polyline points="198.8,357.9 211,357.9" fill="none" stroke="#555" stroke-width="1" />
<polyline points="198.8,368.4 211,368.4" fill="none" stroke="#555" stroke-width="1" />
<polyline points="198.8,379.2 211,379.2" fill="none" stroke="#555" stroke-width="1" />
<polyline points="198.8,397.1 229.8,397.1" fill="none" stroke="#222" stroke-width="1.4" />
<rect x="206.3" y="350.5" width="31.399999999999977" height="37.39999999999998" fill="#d5e2ef" stroke="#808891" stroke-width="1.4"/>
<circle cx="211" cy="357.9" r="2.7" fill="#111"/>
<circle cx="211" cy="368.4" r="2.7" fill="#111"/>
<circle cx="211" cy="379.2" r="2.7" fill="#111"/>
<line x1="232.7" y1="367.8" x2="219.15440103287142" y2="375.01450379770984" stroke="#111" stroke-width="1.1"/>
<path d="M214.3 377.6 L217.7911393989366 372.4549105258322 L220.51766266680625 377.5740970695875 Z" fill="#111"/>
<rect x="225.5" y="370.6" width="30.80000000000001" height="36.5" fill="#d5e2ef" stroke="#808891" stroke-width="1.4"/>
<polyline points="232.7,367.8 260,367.8 260,369.5 263.2,369.5" fill="none" stroke="#555" stroke-width="1" />
<circle cx="232.7" cy="367.8" r="2.7" fill="#111"/>
<circle cx="229.8" cy="377.5" r="2.7" fill="#111"/>
<circle cx="229.8" cy="387.9" r="2.7" fill="#111"/>
<circle cx="229.8" cy="398.9" r="2.7" fill="#111"/>
<circle cx="250.6" cy="387.5" r="2.7" fill="#111"/>
<line x1="250.6" y1="387.5" x2="238.08551747434703" y2="394.58912882956065" stroke="#111" stroke-width="1.1"/>
<path d="M233.3 397.3 L236.65614903902446 392.0658559794504 L239.5148859096696 397.1124016796709 Z" fill="#111"/>
<line x1="241.7" y1="424.4" x2="241.7" y2="414.8" stroke="#983b2c" stroke-width="2.4"/>
<path d="M241.7 408.8 L238.0 415.8 L245.39999999999998 415.8 Z" fill="#983b2c"/>
<line x1="123.3" y1="424.4" x2="123.3" y2="414.1" stroke="#983b2c" stroke-width="2.4"/>
<path d="M123.3 408.1 L119.6 415.1 L127.0 415.1 Z" fill="#983b2c"/>
<polyline points="41,424.4 241.7,424.4" fill="none" stroke="#983b2c" stroke-width="2.4" />
<polyline points="250.6,387.5 260,387.5 260,385 263.2,385" fill="none" stroke="#555" stroke-width="1" />
<rect x="263.2" y="365" width="19.19999999999999" height="25" fill="#efb53a" stroke="#7a5c1a" stroke-width="1" />
<polyline points="263.2,377.5 282.4,377.5" fill="none" stroke="#5a4010" stroke-width="1" />
<path d="M266 375 L272 369 L279 369 M266 381 L272 381 L279 387" fill="none" stroke="#4a3408" stroke-width="1"/>
<rect x="22.4" y="132.4" width="18.6" height="297.9" fill="#2b6cb2" stroke="#1f5088" stroke-width="0.7" />
<text x="31.7" y="201.8" font-size="8.2" font-weight="bold" fill="#fff" text-anchor="middle">M</text>
<text x="31.7" y="210.32000000000002" font-size="8.2" font-weight="bold" fill="#fff" text-anchor="middle">O</text>
<text x="31.7" y="218.84" font-size="8.2" font-weight="bold" fill="#fff" text-anchor="middle">D</text>
<text x="31.7" y="227.36" font-size="8.2" font-weight="bold" fill="#fff" text-anchor="middle">E</text>
<text x="31.7" y="235.88" font-size="8.2" font-weight="bold" fill="#fff" text-anchor="middle">M</text>
<text x="31.7" y="252.92000000000002" font-size="8.2" font-weight="bold" fill="#fff" text-anchor="middle">+</text>
<text x="31.7" y="269.96000000000004" font-size="8.2" font-weight="bold" fill="#fff" text-anchor="middle">T</text>
<text x="31.7" y="278.48" font-size="8.2" font-weight="bold" fill="#fff" text-anchor="middle">R</text>
<text x="31.7" y="287.0" font-size="8.2" font-weight="bold" fill="#fff" text-anchor="middle">A</text>
<text x="31.7" y="295.52" font-size="8.2" font-weight="bold" fill="#fff" text-anchor="middle">N</text>
<text x="31.7" y="304.04" font-size="8.2" font-weight="bold" fill="#fff" text-anchor="middle">S</text>
<text x="31.7" y="312.56" font-size="8.2" font-weight="bold" fill="#fff" text-anchor="middle">C</text>
<text x="31.7" y="321.08000000000004" font-size="8.2" font-weight="bold" fill="#fff" text-anchor="middle">E</text>
<text x="31.7" y="329.6" font-size="8.2" font-weight="bold" fill="#fff" text-anchor="middle">I</text>
<text x="31.7" y="338.12" font-size="8.2" font-weight="bold" fill="#fff" text-anchor="middle">V</text>
<text x="31.7" y="346.64" font-size="8.2" font-weight="bold" fill="#fff" text-anchor="middle">E</text>
<text x="31.7" y="355.15999999999997" font-size="8.2" font-weight="bold" fill="#fff" text-anchor="middle">R</text>
<ellipse cx="181.4" cy="257" rx="31" ry="187.2" fill="none" stroke="#ad6fa0" stroke-width="3.0"/>
<ellipse cx="283" cy="187.8" rx="25.8" ry="35" fill="none" stroke="#ad6fa0" stroke-width="3.0" transform="rotate(4 283 187.8)"/>
<ellipse cx="273" cy="377.5" rx="22" ry="35.3" fill="none" stroke="#ad6fa0" stroke-width="3.0" transform="rotate(-6 273 377.5)"/>
</svg>
</body></html>
